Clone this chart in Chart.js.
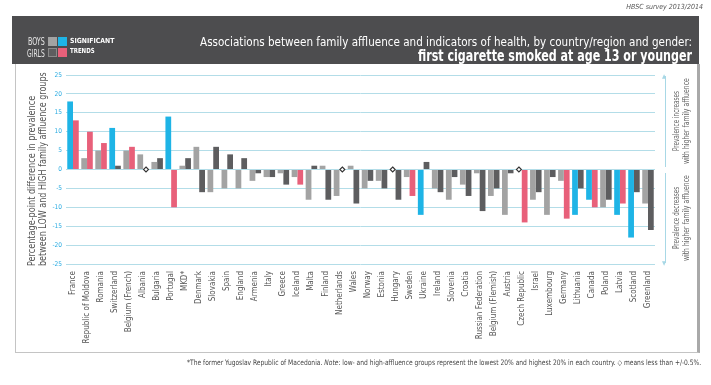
<!DOCTYPE html>
<html>
<head>
<meta charset="utf-8">
<script src="https://cdn.jsdelivr.net/npm/chart.js@4.4.1/dist/chart.umd.min.js"></script>
<style>
  html, body { margin: 0; padding: 0; background: #fff; }
  body { width: 711px; height: 385px; position: relative; overflow: hidden;
         font-family: 'Liberation Sans Narrow', 'DejaVu Sans Condensed', 'Liberation Sans', sans-serif; }
  #wrap { position: absolute; left: 0; top: 0; width: 711px; height: 385px; }
  .t { position: absolute; white-space: nowrap; line-height: 1; }
  #band { position: absolute; left: 12px; top: 16px; width: 687px; height: 48px; background: #4d4d4f; }
  #panel { position: absolute; left: 15px; top: 64px; width: 681px; height: 288px;
           border-left: 1px solid #c4c4c4; border-bottom: 1px solid #c4c4c4; border-right: 3px solid #a9a9a9; }
  .sq { position: absolute; width: 9px; height: 9px; }
  .arrow { position: absolute; left: 665px; width: 1px; background: #a8d8e6; }
</style>
</head>
<body>
<div id="panel"></div>
<div id="wrap"><canvas id="chart" width="711" height="385"></canvas></div>
<div id="band"></div>

<div class="t" style="right:8px; top:4px; font-size:7px; font-style:italic; color:#555;">HBSC survey 2013/2014</div>

<!-- legend in header -->
<div class="t fit" data-w="17" style="left:28px; top:37px; font-size:10px; color:#e6e6e6;">BOYS</div>
<div class="t fit" data-w="18" style="left:27px; top:49px; font-size:10px; color:#e6e6e6;">GIRLS</div>
<div class="sq" style="left:48px; top:37px; background:#a3a3a3;"></div>
<div class="sq" style="left:58px; top:37px; background:#1eb4e6;"></div>
<div class="sq" style="left:48px; top:48px; background:#5d5d5f; outline:1px solid #8a8a8a; outline-offset:-1px;"></div>
<div class="sq" style="left:58px; top:48px; background:#e8607a;"></div>
<div class="t fit" data-w="44" style="left:70px; top:38px; font-size:7px; font-weight:bold; color:#fff;">SIGNIFICANT</div>
<div class="t fit" data-w="25" style="left:70px; top:48px; font-size:7px; font-weight:bold; color:#fff;">TRENDS</div>

<div class="t fit" data-w="492" data-o="right" style="right:19px; top:35px; font-size:13px; color:#fff;">Associations between family affluence and indicators of health, by country/region and gender:</div>
<div class="t fit" data-w="274" data-o="right" style="right:19px; top:49px; font-size:15px; font-weight:bold; color:#fff;">first cigarette smoked at age 13 or younger</div>

<!-- y axis title -->
<div class="t fit rot" data-w="170" style="left:26px; top:266px; font-size:11px; line-height:12px; color:#555;">Percentage-point difference in prevalence</div>
<div class="t fit rot" data-w="194" style="left:37px; top:266px; font-size:11px; line-height:12px; color:#555;">between LOW and HIGH family affluence groups</div>

<!-- right annotations -->
<div class="arrow" style="top:76px; height:91px;"></div>
<div class="arrow" style="top:173px; height:90px;"></div>
<div class="t" style="left:662px; top:73px; font-size:6px; color:#a8d8e6;">&#9650;</div>
<div class="t" style="left:662px; top:260px; font-size:6px; color:#a8d8e6;">&#9660;</div>
<div class="t fit rot" data-w="60" style="left:672px; top:151px; font-size:8px; line-height:9px; color:#666;">Prevalence increases</div>
<div class="t fit rot" data-w="86" style="left:682px; top:164px; font-size:8px; line-height:9px; color:#666;">with higher family affluence</div>
<div class="t fit rot" data-w="62" style="left:672px; top:249px; font-size:8px; line-height:9px; color:#666;">Prevalence decreases</div>
<div class="t fit rot" data-w="86" style="left:682px; top:261px; font-size:8px; line-height:9px; color:#666;">with higher family affluence</div>

<div class="t fit" data-w="514" data-o="right" style="right:10px; top:359px; font-size:7.5px; color:#444;">*The former Yugoslav Republic of Macedonia. <i>Note</i>: low- and high-affluence groups represent the lowest 20% and highest 20% in each country. &#9671; means less than +/-0.5%.</div>

<script>
// Data
const countries = ['France', 'Republic of Moldova', 'Romania', 'Switzerland', 'Belgium (French)', 'Albania',
  'Bulgaria', 'Portugal', 'MKD*', 'Denmark', 'Slovakia', 'Spain', 'England', 'Armenia', 'Italy', 'Greece',
  'Iceland', 'Malta', 'Finland', 'Netherlands', 'Wales', 'Norway', 'Estonia', 'Hungary', 'Sweden', 'Ukraine',
  'Ireland', 'Slovenia', 'Croatia', 'Russian Federation', 'Belgium (Flemish)', 'Austria', 'Czech Republic',
  'Israel', 'Luxembourg', 'Germany', 'Lithuania', 'Canada', 'Poland', 'Latvia', 'Scotland', 'Greenland'];
const boys  = [18, 3, 5, 11, 5, 4, 2, 14, 1, 6, -6, -5, -5, -3, -2, -1, -2, -8, 1, -7, 1, -5, -3, 0, -2,
  -12, -5, -8, -4, -1, -7, -12, 0, -8, -12, -3, -12, -8, -10, -12, -18, -9];
const girls = [13, 10, 7, 1, 6, 0, 3, -10, 3, -6, 6, 4, 3, -1, -2, -4, -4, 1, -8, 0, -9, -3, -5, -8, -7,
  2, -6, -2, -7, -11, -5, -1, -14, -6, -2, -13, -5, -10, -8, -9, -6, -16];
// 1 = significant trend
const boysSig  = [1,0,0,1,0,0,0,1,0,0,0,0,0,0,0,0,0,0,0,0,0,0,0,0,0,1,0,0,0,0,0,0,0,0,0,0,1,1,0,1,1,0];
const girlsSig = [1,1,1,0,1,0,0,1,0,0,0,0,0,0,0,0,1,0,0,0,0,0,0,0,1,0,0,0,0,0,0,0,1,0,0,1,0,1,0,1,0,0];
// 1 = less than +/-0.5% (diamond)
const boysSmall  = countries.map(c => ['Hungary', 'Czech Republic'].includes(c) ? 1 : 0);
const girlsSmall = countries.map(c => ['Albania', 'Netherlands'].includes(c) ? 1 : 0);
const yTicks = [-25, -20, -15, -10, -5, 0, 5, 10, 15, 20, 25];

const NARROW = "'Liberation Sans Narrow', 'DejaVu Sans Condensed', 'Liberation Sans', sans-serif";

// diamonds for values under 0.5
const diamonds = {
  id: 'diamonds',
  afterDatasetsDraw(chart) {
    const ctx = chart.ctx;
    [boysSmall, girlsSmall].forEach((flags, d) => {
      const meta = chart.getDatasetMeta(d);
      flags.forEach((f, i) => {
        if (!f) return;
        const el = meta.data[i];
        const x = el.x, y = chart.scales.y.getPixelForValue(0);
        ctx.save();
        ctx.beginPath();
        ctx.moveTo(x, y - 2.5); ctx.lineTo(x + 2.5, y); ctx.lineTo(x, y + 2.5); ctx.lineTo(x - 2.5, y); ctx.closePath();
        ctx.fillStyle = '#fff'; ctx.fill();
        ctx.lineWidth = 1.1; ctx.strokeStyle = '#333'; ctx.stroke();
        ctx.restore();
      });
    });
  }
};

new Chart(document.getElementById('chart'), {
  type: 'bar',
  data: {
    labels: countries,
    datasets: [
      { label: 'Boys', data: boys, backgroundColor: c => boysSig[c.dataIndex] ? '#1eb4e6' : '#a3a3a3' },
      { label: 'Girls', data: girls, backgroundColor: c => girlsSig[c.dataIndex] ? '#e8607a' : '#5d5d5f' }
    ]
  },
  options: {
    responsive: false,
    animation: false,
    datasets: { bar: { categoryPercentage: 0.82, barPercentage: 1.0 } },
    layout: { padding: { left: 0, top: 75, right: 56, bottom: 0 } },
    plugins: { legend: { display: false }, tooltip: { enabled: false } },
    scales: {
      x: {
        grid: { display: false, drawTicks: false },
        border: { display: false },
        ticks: { autoSkip: false, minRotation: 90, maxRotation: 90, padding: 7, color: '#555',
                 font: { family: NARROW, size: 8 } },
        afterFit: s => { s.height = 121; }
      },
      y: {
        min: -25, max: 25,
        afterBuildTicks: s => { s.ticks = yTicks.map(v => ({ value: v })); },
        grid: { color: '#b3dde8', lineWidth: 1, drawTicks: false },
        border: { display: false },
        ticks: { padding: 4, color: '#29abe2', font: { family: NARROW, size: 6.5 } },
        afterFit: s => { s.width = 66; }
      }
    }
  },
  plugins: [diamonds]
});

// squeeze header/notes text to the widths of the original
document.querySelectorAll('.fit').forEach(el => {
  const s = (+el.dataset.w) / el.offsetWidth;
  if (el.classList.contains('rot')) {
    el.style.transformOrigin = '0 0';
    el.style.transform = `rotate(-90deg) scaleX(${s})`;
  } else {
    el.style.transformOrigin = el.dataset.o === 'right' ? '100% 50%' : '0 50%';
    el.style.transform = `scaleX(${s})`;
  }
});
</script>
</body>
</html>
